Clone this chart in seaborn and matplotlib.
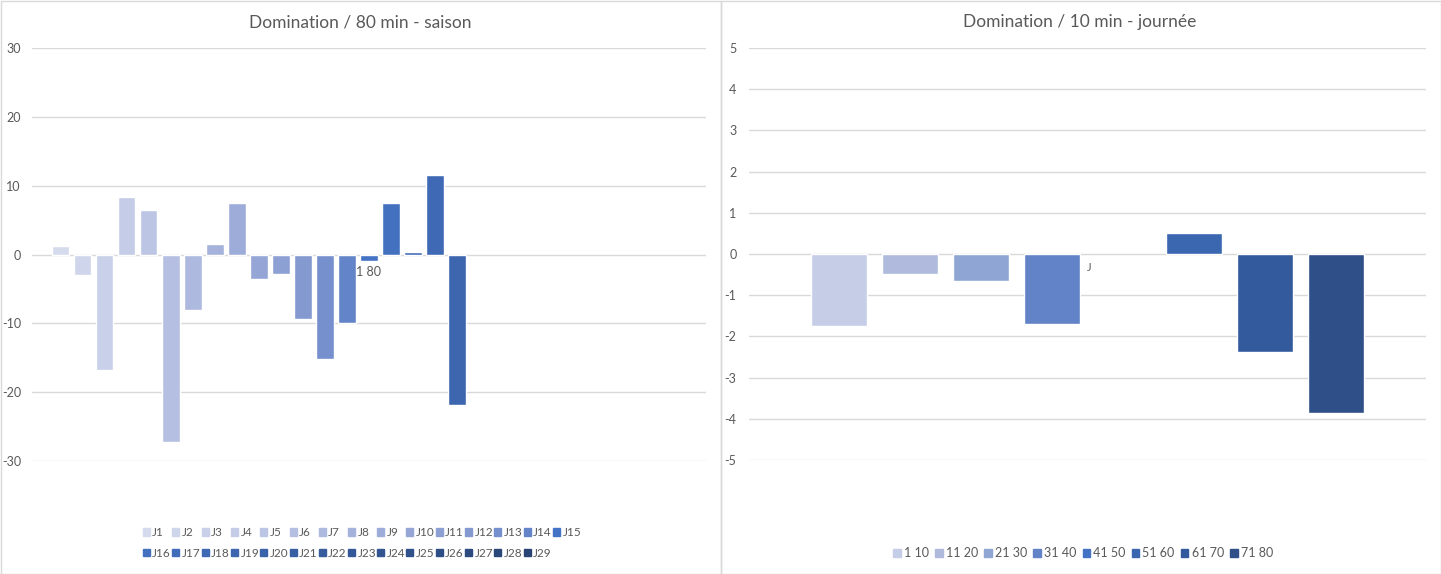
import matplotlib
matplotlib.use("Agg")
import matplotlib.pyplot as plt
import seaborn as sns
import pandas as pd
from matplotlib.patches import Patch

# ---------------- data ----------------
left_title = "Domination / 80 min - saison"
left_series = [f"J{i}" for i in range(1, 30)]
left_values = [1.2, -3.0, -16.8, 8.3, 6.5, -27.3, -8.0, 1.5, 7.5, -3.5,
               -2.9, -9.4, -15.2, -10.0, -1.0, 7.5, 0.4, 11.6, -21.9]
left_yticks = [-30, -20, -10, 0, 10, 20, 30]
left_note = "1 80"
left_colors = ["#d5daed", "#cfd5eb", "#c9d0e9", "#c4cce7", "#bcc6e4", "#b5bfe1",
               "#adb9df", "#a5b3dc", "#9dacd9", "#95a6d6", "#8da0d3", "#8399d0",
               "#7590cd", "#6484ca", "#4472c4", "#4470c0", "#416cba", "#3f69b5",
               "#3d66af", "#3a62a9", "#385fa4", "#365c9e", "#345898", "#325592",
               "#30518c", "#2e4e86", "#2c4a80", "#2a477a", "#284374"]

right_title = "Domination / 10 min - journée"
right_series = ["1 10", "11 20", "21 30", "31 40", "41 50", "51 60", "61 70", "71 80"]
right_values = [-1.75, -0.48, -0.65, -1.70, None, 0.51, -2.38, -3.86]
right_yticks = [-5, -4, -3, -2, -1, 0, 1, 2, 3, 4, 5]
right_note = "J"
right_colors = ["#c6cee7", "#afbadd", "#8fa6d4", "#6283c8", "#4472c4",
                "#3b66b0", "#345a9e", "#2e4f88"]

TXT = "#595959"
GRID = "#d9d9d9"
FONT = ["Lato", "DejaVu Sans"]

sns.set_theme(style="white")
plt.rcParams["font.family"] = FONT

W, H = 1441, 574
fig = plt.figure(figsize=(W / 100, H / 100), dpi=100)


def fx(px):
    return px / W


def fy(py):
    return 1 - py / H


# panel borders
for x0, x1 in [(0.5, 720.5), (720.5, 1440.5)]:
    fig.add_artist(plt.Rectangle((fx(x0), fy(H - 0.5)), fx(x1 - x0), fy(0.5) - fy(H - 0.5),
                                 transform=fig.transFigure, fill=False, ec=GRID, lw=1))


def style_axes(ax, yticks, pad):
    ax.set_ylim(yticks[0], yticks[-1])
    ax.set_yticks(yticks)
    ax.set_yticklabels([str(t) for t in yticks])
    ax.set_xlim(-0.5, 0.5)
    ax.set_xticks([])
    ax.set_xlabel("")
    ax.set_ylabel("")
    ax.grid(axis="y", color=GRID, lw=1)
    ax.set_axisbelow(True)
    for s in ax.spines.values():
        s.set_visible(False)
    ax.tick_params(axis="y", length=0, labelsize=9, labelcolor=TXT, pad=pad)


# ---------------- left chart ----------------
axL = fig.add_axes([fx(32), fy(461), fx(674), fy(48) - fy(461)])
dfL = pd.DataFrame({"cat": ["c"] * len(left_values),
                    "serie": left_series[:len(left_values)],
                    "val": left_values})
sns.barplot(data=dfL, x="cat", y="val", hue="serie", hue_order=left_series,
            palette=dict(zip(left_series, left_colors)), width=0.948, gap=0.2,
            saturation=1, ax=axL, legend=False, errorbar=None)
style_axes(axL, left_yticks, 8)
fig.text(fx(360), fy(22), left_title, ha="center", va="center", fontsize=12.5, color=TXT)

pL = axL.patches[14]
axL.annotate(left_note, (pL.get_x() + pL.get_width() / 2, left_values[14]),
             xytext=(0, -3), textcoords="offset points", ha="center", va="top",
             fontsize=9, color=TXT)

# legend left (two rows, row-major)
handlesL = [Patch(color=c, label=s) for s, c in zip(left_series, left_colors)]
order = []
for i in range(14):
    order += [i, i + 15]
order.append(14)
fig.legend([handlesL[i] for i in order], [left_series[i] for i in order],
           ncol=15, loc="center", bbox_to_anchor=(fx(362), fy(543)),
           frameon=False, fontsize=8.5, handlelength=0.6, handleheight=0.6,
           handletextpad=0.2, columnspacing=0.1, labelspacing=0.8,
           borderaxespad=0, labelcolor=TXT)

# ---------------- right chart ----------------
axR = fig.add_axes([fx(749), fy(460), fx(677), fy(48) - fy(460)])
dfR = pd.DataFrame({"cat": ["c"] * len(right_series), "serie": right_series,
                    "val": right_values}).dropna()
sns.barplot(data=dfR, x="cat", y="val", hue="serie", hue_order=right_series,
            palette=dict(zip(right_series, right_colors)), width=0.838, gap=0.21,
            saturation=1, ax=axR, legend=False, errorbar=None)
style_axes(axR, right_yticks, 9)
fig.text(fx(1080), fy(22), right_title, ha="center", va="center", fontsize=12.5, color=TXT)

pR = axR.patches[3]
axR.annotate(right_note, (pR.get_x() + pR.get_width(), 0),
             xytext=(5, -10), textcoords="offset points", ha="left", va="center",
             fontsize=8, color=TXT)

handlesR = [Patch(color=c, label=s) for s, c in zip(right_series, right_colors)]
fig.legend(handlesR, right_series, ncol=8, loc="center",
           bbox_to_anchor=(fx(1083), fy(553)), frameon=False, fontsize=9,
           handlelength=0.6, handleheight=0.6, handletextpad=0.25,
           columnspacing=0.5, borderaxespad=0, labelcolor=TXT)

fig.savefig("out.png", dpi=100, facecolor="white")
